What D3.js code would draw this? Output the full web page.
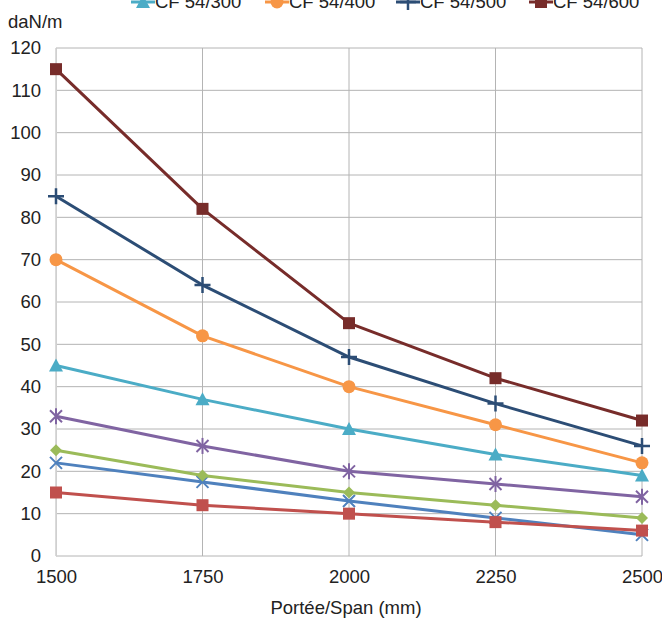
<html><head>
<script src="https://d3js.org/d3.v7.min.js"></script>
<style>
  body { margin: 0; background: #fff; }
  text { font-family: "Liberation Sans", Arial, sans-serif; fill: #222; }
</style>
</head>
<body>
<svg id="chart" width="662" height="621"></svg>
<script>
    // spans (mm) and loads (daN/m)
    const spans = [1500, 1750, 2000, 2250, 2500];
    const yTicks = d3.range(0, 121, 10);

    const seriesNames = ["S1", "S2", "S3", "S4", "CF 54/300", "CF 54/400", "CF 54/500", "CF 54/600"];
    const seriesValues = [
        [22, 17.5, 13, 9, 5],
        [15, 12, 10, 8, 6],
        [25, 19, 15, 12, 9],
        [33, 26, 20, 17, 14],
        [45, 37, 30, 24, 19],
        [70, 52, 40, 31, 22],
        [85, 64, 47, 36, 26],
        [115, 82, 55, 42, 32]
    ];
    const seriesColors = ["#4F81BD", "#C0504D", "#9BBB59", "#8064A2", "#4BACC6", "#F79646", "#2C4D75", "#772C2A"];
    const seriesMarkers = ["x", "square", "diamond", "star", "triangle", "circle", "plus", "square"];
    const legendSeries = [4, 5, 6, 7];

    let svg = d3.select("svg#chart");
    let margin = {"top": 48, "left": 56, "right": 20, "bottom": 65};
    let chartWidth = 642 - margin.left;
    let chartHeight = 556 - margin.top;

    let xScale = d3.scalePoint().domain(spans).range([0, chartWidth]);
    let yScale = d3.scaleLinear().domain([0, 120]).range([chartHeight, 0]);

    let chart = svg.append("g")
        .attr("transform", "translate(" + margin.left + "," + margin.top + ")");

    // gridlines
    chart.append("g").selectAll("line.h")
        .data(yTicks.filter(d => d > 0))
        .join("line")
        .attr("x1", 0).attr("x2", chartWidth)
        .attr("y1", d => yScale(d)).attr("y2", d => yScale(d))
        .attr("stroke", "#b4b4b4").attr("stroke-width", 1);

    chart.append("g").selectAll("line.v")
        .data(spans)
        .join("line")
        .attr("x1", d => xScale(d)).attr("x2", d => xScale(d))
        .attr("y1", 0).attr("y2", chartHeight)
        .attr("stroke", "#b4b4b4").attr("stroke-width", 1);

    // axis lines
    chart.append("line")
        .attr("x1", 0).attr("x2", chartWidth)
        .attr("y1", chartHeight).attr("y2", chartHeight)
        .attr("stroke", "#b4b4b4");

    // tick labels
    let yAxis = d3.axisLeft(yScale).tickValues(yTicks).tickSize(0).tickPadding(15);
    let yg = chart.append("g").call(yAxis);
    yg.select(".domain").attr("stroke", "#d0d0d0");
    yg.selectAll("text").style("font-size", "18.5px").style("font-family", "Liberation Sans, Arial, sans-serif").attr("fill", "#222");

    let xAxis = d3.axisBottom(xScale).tickSize(0).tickPadding(14);
    let xg = chart.append("g").attr("transform", "translate(0," + chartHeight + ")").call(xAxis);
    xg.select(".domain").remove();
    xg.selectAll("text").style("font-size", "18.5px").style("font-family", "Liberation Sans, Arial, sans-serif").attr("fill", "#222");

    svg.append("text").attr("x", 346).attr("y", 614)
        .attr("text-anchor", "middle").style("font-size", "18.5px")
        .text("Portée/Span (mm)");

    svg.append("text").attr("x", 8).attr("y", 28)
        .style("font-size", "18.5px").text("daN/m");

    // marker drawing
    function drawMarker(g, type, color, x, y) {
        if (type == "square") {
            g.append("rect").attr("x", x - 6).attr("y", y - 6).attr("width", 12).attr("height", 12).attr("fill", color);
        } else if (type == "circle") {
            g.append("circle").attr("cx", x).attr("cy", y).attr("r", 6.5).attr("fill", color);
        } else if (type == "triangle") {
            g.append("path").attr("d", "M" + x + "," + (y - 7) + "L" + (x + 7) + "," + (y + 6) + "L" + (x - 7) + "," + (y + 6) + "Z").attr("fill", color);
        } else if (type == "diamond") {
            g.append("path").attr("d", "M" + x + "," + (y - 6) + "L" + (x + 6) + "," + y + "L" + x + "," + (y + 6) + "L" + (x - 6) + "," + y + "Z").attr("fill", color);
        } else if (type == "x" || type == "star") {
            g.append("path").attr("d", "M" + (x - 6) + "," + (y - 6) + "L" + (x + 6) + "," + (y + 6) + "M" + (x + 6) + "," + (y - 6) + "L" + (x - 6) + "," + (y + 6))
                .attr("stroke", color).attr("stroke-width", 2);
            if (type == "star") {
                g.append("path").attr("d", "M" + x + "," + (y - 8) + "L" + x + "," + (y + 8)).attr("stroke", color).attr("stroke-width", 2);
            }
        } else if (type == "plus") {
            g.append("path").attr("d", "M" + (x - 8) + "," + y + "L" + (x + 8) + "," + y + "M" + x + "," + (y - 8) + "L" + x + "," + (y + 8))
                .attr("stroke", color).attr("stroke-width", 2.5);
        }
    }

    let line = d3.line().x((d, i) => xScale(spans[i])).y(d => yScale(d));

    seriesValues.forEach((vals, s) => {
        let g = chart.append("g");
        g.append("path").attr("d", line(vals))
            .attr("fill", "none").attr("stroke", seriesColors[s]).attr("stroke-width", 3)
            .attr("stroke-linejoin", "round");
        vals.forEach((v, i) => drawMarker(g, seriesMarkers[s], seriesColors[s], xScale(spans[i]), yScale(v)));
    });

    // legend (top row cut off at the top edge, as in the source image)
    let legendX = [131, 265, 396, 529];
    legendSeries.forEach((s, i) => {
        let lg = svg.append("g");
        lg.append("line").attr("x1", legendX[i]).attr("x2", legendX[i] + 24)
            .attr("y1", 2).attr("y2", 2).attr("stroke", seriesColors[s]).attr("stroke-width", 3);
        drawMarker(lg, seriesMarkers[s], seriesColors[s], legendX[i] + 12, 2);
        lg.append("text").attr("x", legendX[i] + 24).attr("y", 8)
            .style("font-size", "18.5px").text(seriesNames[s]);
    });
</script>
</body>
</html>
